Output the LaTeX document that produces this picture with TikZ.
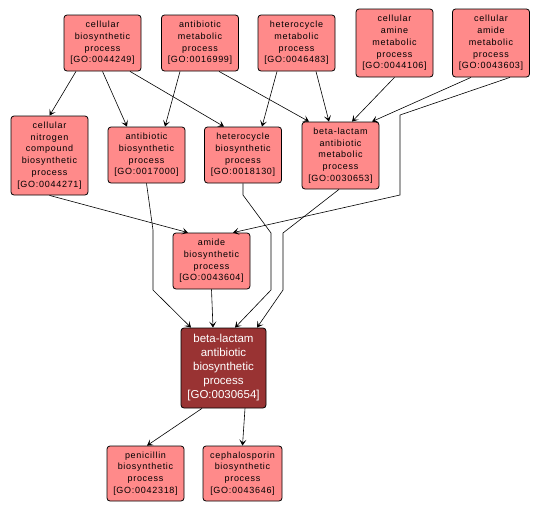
\documentclass[tikz,border=0pt]{standalone}
\usepackage{fontspec}
\usepackage{xcolor}
\usepackage{tikz}
\usetikzlibrary{arrows.meta}
\newfontfamily\gofont[LetterSpace=8]{Liberation Sans}
\newfontfamily\gobig{Liberation Sans}
\definecolor{golight}{RGB}{255,138,138}
\definecolor{godark}{RGB}{153,51,51}

\begin{document}
\begin{tikzpicture}[x=1pt, y=-1pt,
  term/.style={draw, line width=0.8pt, rounded corners=3pt, fill=golight, align=center,
    minimum width=77pt, minimum height=56pt, inner sep=1pt,
    font=\gofont\fontsize{9}{11.7}\selectfont},
  focus/.style={term, fill=godark, text=white, minimum width=85pt, minimum height=80pt,
    font=\gobig\fontsize{11.5}{14}\selectfont},
  edge/.style={-{Stealth[length=6pt,width=7pt,inset=3pt]}, line width=0.6pt}]
  \useasboundingbox (0,0) rectangle (542,512);
  \node[term] (cbp) at (102.5,43) {cellular\\biosynthetic\\process\\{[GO:0044249]}};
  \node[term] (abm) at (200,43) {antibiotic\\metabolic\\process\\{[GO:0016999]}};
  \node[term] (hcm) at (296.5,43) {heterocycle\\metabolic\\process\\{[GO:0046483]}};
  \node[term, minimum height=68pt] (cam) at (394.5,43) {cellular\\amine\\metabolic\\process\\{[GO:0044106]}};
  \node[term, minimum height=68pt] (cad) at (491,43) {cellular\\amide\\metabolic\\process\\{[GO:0043603]}};
  \node[term, minimum height=79pt] (cnc) at (49.5,155.5) {cellular\\nitrogen\\compound\\biosynthetic\\process\\{[GO:0044271]}};
  \node[term] (abb) at (146.5,155) {antibiotic\\biosynthetic\\process\\{[GO:0017000]}};
  \node[term] (hcb) at (243,155) {heterocycle\\biosynthetic\\process\\{[GO:0018130]}};
  \node[term, minimum height=67pt] (blm) at (340.5,155.5) {beta-lactam\\antibiotic\\metabolic\\process\\{[GO:0030653]}};
  \node[term] (amb) at (211.5,261) {amide\\biosynthetic\\process\\{[GO:0043604]}};
  \node[focus] (blb) at (223.5,368) {beta-lactam\\antibiotic\\biosynthetic\\process\\{[GO:0030654]}};
  \node[term, minimum height=55pt] (pen) at (145.5,473.5) {penicillin\\biosynthetic\\process\\{[GO:0042318]}};
  \node[term, minimum height=55pt, minimum width=79pt] (cep) at (242.5,473.5) {cephalosporin\\biosynthetic\\process\\{[GO:0043646]}};

  \draw[edge] ([xshift=-26.5pt]cbp.south) -- (cnc.north);
  \draw[edge] (cbp.south) -- ([xshift=-19.5pt]abb.north);
  \draw[edge] ([xshift=27.5pt]cbp.south) -- ([xshift=-19pt]hcb.north);
  \draw[edge] ([xshift=-20pt]abm.south) -- ([xshift=18.5pt]abb.north);
  \draw[edge] ([xshift=19pt]abm.south) -- ([xshift=-31.5pt]blm.north);
  \draw[edge] ([xshift=-19.5pt]hcm.south) -- ([xshift=19pt]hcb.north);
  \draw[edge] ([xshift=19.5pt]hcm.south) -- ([xshift=-11.5pt]blm.north);
  \draw[edge] (cam.south) -- ([xshift=11.5pt]blm.north);
  \draw[edge] ([xshift=-20pt]cad.south) -- ([xshift=31.5pt]blm.north);
  \draw[edge] ([xshift=19pt]cad.south) -- (400,115) -- (400,195) -- ([xshift=21.5pt]amb.north);
  \draw[edge] (cnc.south) -- ([xshift=-23.5pt]amb.north);
  \draw[edge] (abb.south) -- (153,230) -- (153,290) -- ([xshift=-32.5pt]blb.north);
  \draw[edge] (hcb.south) -- (243,195) -- (271,233) -- (271,290) -- ([xshift=11.5pt]blb.north);
  \draw[edge] ([xshift=-1.5pt]blm.south) -- (283,233) -- (283,290) -- ([xshift=33.5pt]blb.north);
  \draw[edge] (amb.south) -- ([xshift=-10.5pt]blb.north);
  \draw[edge] ([xshift=-21.5pt]blb.south) -- ([xshift=1.5pt]pen.north);
  \draw[edge] ([xshift=21.5pt]blb.south) -- (cep.north);
\end{tikzpicture}
\end{document}
